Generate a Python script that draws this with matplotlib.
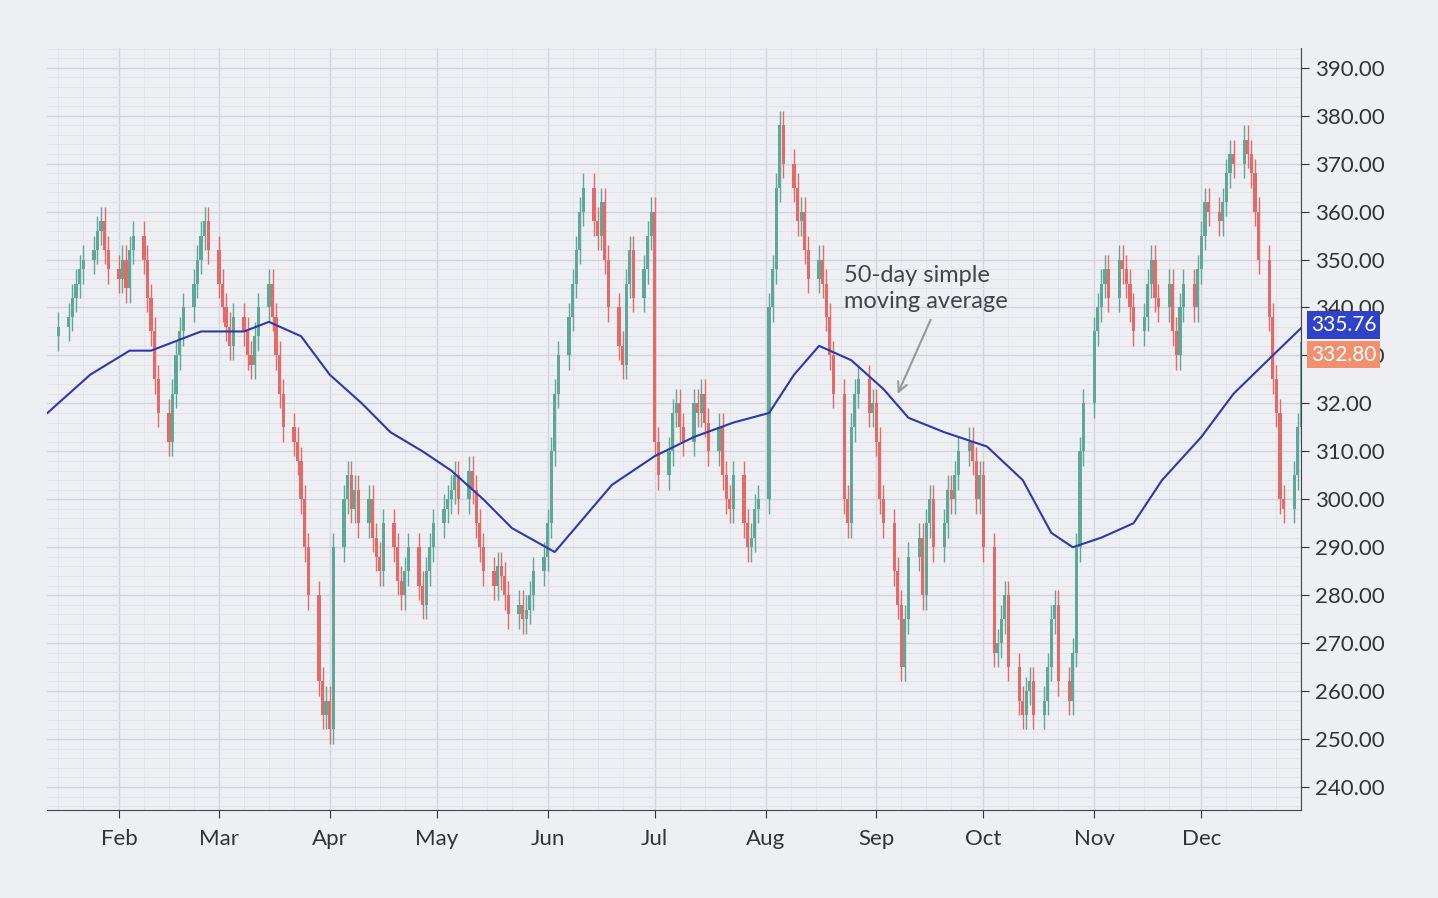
import matplotlib
matplotlib.use("Agg")
import matplotlib.pyplot as plt
import matplotlib.dates as mdates
import pandas as pd
import numpy as np

months = ["2021-01-15","2021-02-01","2021-03-01","2021-04-01","2021-05-01","2021-06-01",
          "2021-07-01","2021-08-01","2021-09-01","2021-10-01","2021-11-01","2021-12-01"]
closes_by_month = [
 [336,338,342,345,348,350,352,356,358,352,348],
 [346,350,344,352,355,350,342,335,325,318,312,322,330,335,340,345,350,355,358,352],
 [345,340,336,332,338,335,330,328,334,340,345,338,330,322,315,312,308,300,290,280,262,255,258],
 [252,290,300,305,298,302,295,300,292,288,285,295,290,283,280,285,290,282,278,285,290,295],
 [298,300,302,305,300,306,302,295,290,285,282,286,284,280,276,278,275,277,280,285,288],
 [295,310,322,330,338,345,352,360,365,358,355,362,350,340,332,328,345,352,342,348,355,360],
 [312,305,310,318,320,315,312,320,318,322,316,310,315,305,300,298,305,295,290,292,298,300],
 [340,348,365,378,370,365,358,360,352,346,350,345,338,330,322,300,295,315,322,325,318,320],
 [312,300,295,285,278,265,275,288,292,280,295,300,290,295,302,300,305,310,312,308,300,305],
 [290,268,270,275,280,265,258,255,260,262,255,258,265,275,278,262,258,268,290,310,320],
 [335,340,345,348,342,350,348,345,340,335,338,345,350,342,340,345,335,330,340,345,340,348],
 [355,362,360,358,362,368,372,370,375,372,368,360,350,338,325,318,300,298,305,315,332.8],
]
first_open = 334
wick = 3.0

ma_dates = ["2021-01-12","2021-01-24","2021-02-04","2021-02-10","2021-02-24","2021-03-08","2021-03-15",
            "2021-03-24","2021-04-01","2021-04-10","2021-04-18","2021-04-27","2021-05-05","2021-05-14",
            "2021-05-22","2021-06-03","2021-06-11","2021-06-19","2021-07-01","2021-07-12","2021-07-23",
            "2021-08-02","2021-08-09","2021-08-16","2021-08-25","2021-09-03","2021-09-10","2021-09-20",
            "2021-10-02","2021-10-12","2021-10-20","2021-10-26","2021-11-03","2021-11-12","2021-11-20",
            "2021-12-01","2021-12-10","2021-12-21","2021-12-29"]
ma_vals = [318,326,331,331,335,335,337,334,326,320,314,310,306,300,294,289,296,303,309,313,316,
           318,326,332,329,323,317,314,311,304,293,290,292,295,304,313,322,330,335.76]

yticks = list(range(240, 391, 10))
ytick_labels = ["%.2f" % v if v != 320 else "32.00" for v in yticks]

dates, closes = [], []
for m, cl in zip(months, closes_by_month):
    start = pd.Timestamp(m)
    bd = pd.bdate_range(start, start + pd.offsets.MonthEnd(0))
    dates += list(bd[:len(cl)])
    closes += cl
closes = np.array(closes, float)
opens = np.concatenate([[first_open], closes[:-1]])
x = mdates.date2num(dates)

fig = plt.figure(figsize=(14.38, 8.98), dpi=100)
fig.patch.set_facecolor("#eeeff3")
ax = fig.add_axes([0.033, 0.098, 0.872, 0.849])
ax.set_facecolor("#eeeff3")
up, dn = "#5fa898", "#e46a6a"
for xi, o, c in zip(x, opens, closes):
    col = up if c >= o else dn
    lo, hi = min(o, c), max(o, c)
    ax.vlines(xi, lo - wick, hi + wick, color=col, lw=1, zorder=3)
    ax.bar(xi, max(hi - lo, 0.6), bottom=lo, width=0.9, color=col, zorder=3)

ax.plot(mdates.date2num(pd.to_datetime(ma_dates)), ma_vals, color="#2b3aa8", lw=1.5, zorder=4)

ax.set_xlim(mdates.date2num(pd.Timestamp("2021-01-12")), mdates.date2num(pd.Timestamp("2021-12-29")))
ax.set_ylim(235.2, 394.2)
ax.xaxis.set_major_locator(mdates.MonthLocator(bymonth=range(2, 13)))
ax.xaxis.set_major_formatter(mdates.DateFormatter("%b"))
ax.xaxis.set_minor_locator(mdates.DayLocator(bymonthday=[8, 15, 22]))
ax.yaxis.tick_right()
ax.set_yticks(yticks)
ax.set_yticklabels(ytick_labels)
ax.yaxis.set_minor_locator(matplotlib.ticker.MultipleLocator(2))
ax.grid(which="major", color="#d2d4db", lw=1)
ax.grid(which="minor", color="#e1e3e8", lw=0.6)
for s in ["top", "left"]:
    ax.spines[s].set_visible(False)
for s in ["bottom", "right"]:
    ax.spines[s].set_color("#444")
ax.tick_params(axis="both", which="major", labelsize=16, colors="#333", length=6)
ax.tick_params(axis="both", which="minor", length=0)
ax.tick_params(axis="x", pad=8)
for t in ax.get_xticklabels() + ax.get_yticklabels():
    t.set_fontfamily("Lato")

for v, bg, dy in [(335.76, "#2f43c8", 2), (332.80, "#f0906f", -9)]:
    ax.annotate("%.2f" % v, xy=(1.0, v), xycoords=("axes fraction", "data"),
                xytext=(7, dy), textcoords="offset points", ha="left", va="center",
                fontsize=15, color="white", fontfamily="Lato",
                bbox=dict(boxstyle="square,pad=0.18", fc=bg, ec="none"), annotation_clip=False)

ax.annotate("50-day simple\nmoving average",
            xy=(mdates.date2num(pd.Timestamp("2021-09-07")), 322),
            xytext=(mdates.date2num(pd.Timestamp("2021-08-23")), 344),
            fontsize=17, color="#444", fontfamily="Lato", va="center", linespacing=1.3,
            arrowprops=dict(arrowstyle="->", color="#999", lw=1.5,
                            shrinkA=4, shrinkB=0, relpos=(0.55, 0)))

fig.savefig("out.png", dpi=100, facecolor=fig.get_facecolor())
